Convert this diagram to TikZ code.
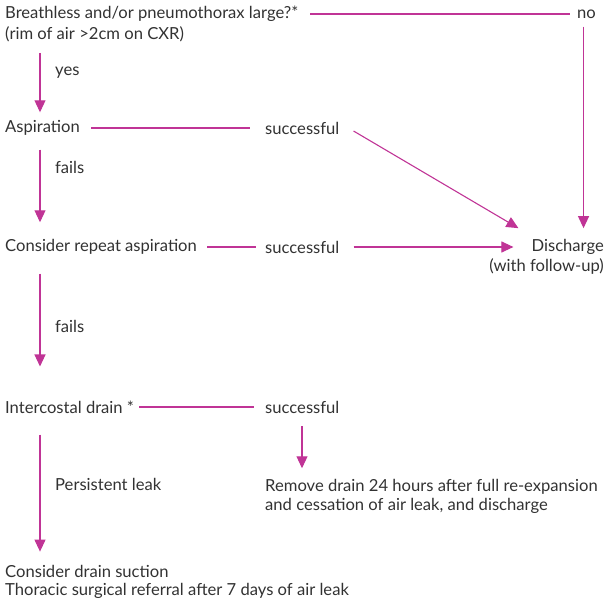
\documentclass[tikz,border=0pt]{standalone}
\usepackage{fontspec}
\setmainfont{Lato}
\usetikzlibrary{arrows.meta}
\definecolor{flowpink}{RGB}{192,52,150}
\definecolor{flowtext}{RGB}{50,50,50}

\begin{document}
\begin{tikzpicture}[x=1pt,y=-1pt,
        every node/.style={anchor=west,inner sep=0pt,text=flowtext,font=\fontsize{16.6}{20}\selectfont},
        link/.style={flowpink,line width=1.1pt},
        arr/.style={link,-{Triangle[width=11pt,length=12pt]}}]
        \useasboundingbox (0,0) rectangle (606,601);
        \coordinate (col) at (40,0);

        \node at (5,14)   (q)       {Breathless and/or pneumothorax large?*};
        \node at (5,34)   (qnote)   {(rim of air >2cm on CXR)};
        \node at (577,14) (no)      {no};
        \node at (55,73)  (yes)     {yes};

        \node at (5,128)   (asp)    {Aspiration};
        \node at (265,128) (succa)  {successful};
        \node at (55,167)  (faila)  {fails};

        \node at (5,247)   (rep)    {Consider repeat aspiration};
        \node at (265,247) (succb)  {successful};
        \node[anchor=east] at (604,247) (dis)     {Discharge};
        \node[anchor=east] at (604,266) (disnote) {(with follow-up)};
        \node at (55,326)  (failb)  {fails};

        \node at (5,407)   (icd)    {Intercostal drain *};
        \node at (265,407) (succc)  {successful};
        \node at (265,487) (rem)    {Remove drain 24 hours after full re-expansion};
        \node at (265,506) (remnote) {and cessation of air leak, and discharge};
        \node at (55,484)  (leak)   {Persistent leak};

        \node at (5,571)   (suct)   {Consider drain suction};
        \node at (5,591)   (ref)    {Thoracic surgical referral after 7 days of air leak};

        \coordinate (intop) at ([xshift=-13pt,yshift=11pt]dis.north west);

        \draw[link] ([xshift=12pt]q.east) -- ([xshift=-7pt]no.west);
        \draw[arr] ([xshift=-3pt,yshift=-8pt]no.south) -- ([xshift=-3pt]no.south |- intop);
        \draw[arr] ([yshift=-11pt]qnote.south -| col) -- ([yshift=8pt]asp.north -| col);

        \draw[link] ([xshift=11pt]asp.east) -- ([xshift=-15pt]succa.west);
        \draw[arr] ([xshift=14pt,yshift=-3pt]succa.east) -- (intop);
        \draw[arr] ([yshift=-14pt]asp.south -| col) -- ([yshift=17pt]rep.north -| col);

        \draw[link] ([xshift=10pt]rep.east) -- ([xshift=-9pt]succb.west);
        \draw[arr] ([xshift=14pt]succb.east) -- ([xshift=-18pt]dis.west);
        \draw[arr] ([yshift=-19pt]rep.south -| col) -- ([yshift=34pt]icd.north -| col);

        \draw[link] ([xshift=5pt]icd.east) -- ([xshift=-11pt]succc.west);
        \draw[arr] ([yshift=-13pt]succc.south -| 302,0) -- ([yshift=11pt]rem.north -| 302,0);
        \draw[arr] ([yshift=-21pt]icd.south -| col) -- ([yshift=13pt]suct.north -| col);
\end{tikzpicture}
\end{document}
